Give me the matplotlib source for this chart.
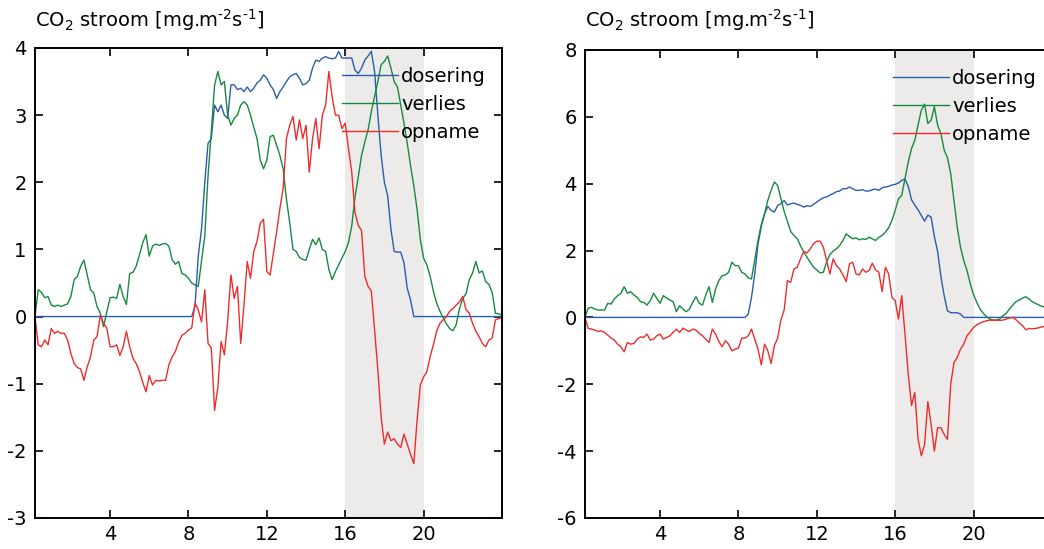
import numpy as np
import matplotlib
matplotlib.use("Agg")
import matplotlib.pyplot as plt

plt.rcParams["font.family"] = "DejaVu Sans"
plt.rcParams["axes.unicode_minus"] = False

# tijd in uren, 10-minuten waarden
tijd = np.arange(1, 145) / 6

# linker grafiek
dosering_1 = [
    0, 0, 0, 0, 0, 0,
    0, 0, 0, 0, 0, 0,
    0, 0, 0, 0, 0, 0,
    0, 0, 0, 0, 0, 0,
    0, 0, 0, 0, 0, 0,
    0, 0, 0, 0, 0, 0,
    0, 0, 0, 0, 0, 0,
    0, 0, 0, 0, 0, 0,
    0.00, 0.15, 0.90, 1.30, 2.00, 2.58,
    2.65, 3.15, 3.05, 3.15, 3.00, 2.95,
    3.45, 3.45, 3.38, 3.40, 3.35, 3.42,
    3.35, 3.40, 3.48, 3.52, 3.60, 3.55,
    3.45, 3.38, 3.25, 3.35, 3.42, 3.50,
    3.57, 3.60, 3.62, 3.55, 3.45, 3.47,
    3.52, 3.70, 3.82, 3.80, 3.85, 3.87,
    3.85, 3.84, 3.85, 3.95, 3.85, 3.85,
    3.85, 3.85, 3.67, 3.62, 3.70, 3.82,
    3.88, 3.95, 3.65, 3.00, 2.40, 2.00,
    1.80, 1.30, 0.97, 0.96, 0.96, 0.80,
    0.42, 0.25, 0.00, 0, 0, 0,
    0, 0, 0, 0, 0, 0,
    0, 0, 0, 0, 0, 0,
    0, 0, 0, 0, 0, 0,
    0, 0, 0, 0, 0, 0,
]
verlies_1 = [
    0.00, 0.40, 0.36, 0.28, 0.30, 0.17,
    0.15, 0.17, 0.15, 0.17, 0.19, 0.30,
    0.55, 0.60, 0.75, 0.84, 0.62, 0.40,
    0.35, 0.15, 0.05, -0.15, 0.07, 0.28,
    0.29, 0.27, 0.48, 0.30, 0.18, 0.64,
    0.66, 0.75, 0.92, 1.10, 1.22, 0.90,
    1.05, 1.08, 1.06, 1.08, 1.09, 1.05,
    0.85, 0.78, 0.82, 0.64, 0.62, 0.57,
    0.50, 0.47, 0.45, 0.83, 1.20, 2.10,
    2.75, 3.45, 3.65, 3.45, 3.50, 3.00,
    2.85, 2.95, 3.00, 3.15, 3.20, 3.15,
    3.00, 2.82, 2.65, 2.33, 2.20, 2.33,
    2.68, 2.70, 2.55, 2.40, 2.20, 1.75,
    1.40, 1.00, 0.97, 0.88, 0.85, 0.84,
    1.00, 1.15, 1.07, 1.17, 1.00, 0.97,
    0.70, 0.55, 0.67, 0.77, 0.87, 0.97,
    1.10, 1.35, 1.78, 2.08, 2.40, 2.60,
    2.78, 3.05, 3.28, 3.50, 3.75, 3.80,
    3.88, 3.70, 3.50, 3.42, 3.15, 2.88,
    2.58, 2.25, 1.95, 1.60, 1.15, 0.87,
    0.77, 0.60, 0.38, 0.20, 0.08, -0.02,
    -0.11, -0.18, -0.21, -0.12, 0.12, 0.27,
    0.34, 0.55, 0.65, 0.82, 0.65, 0.68,
    0.52, 0.48, 0.36, 0.05, 0.04, 0.02,
]
opname_1 = [
    0.00, -0.42, -0.45, -0.35, -0.42, -0.18,
    -0.25, -0.22, -0.25, -0.25, -0.35, -0.55,
    -0.70, -0.76, -0.78, -0.95, -0.75, -0.60,
    -0.35, -0.30, 0.02, -0.10, -0.17, -0.45,
    -0.45, -0.42, -0.58, -0.45, -0.22, -0.45,
    -0.62, -0.70, -0.82, -0.98, -1.12, -0.88,
    -1.02, -0.95, -0.96, -0.95, -0.95, -0.72,
    -0.60, -0.52, -0.38, -0.28, -0.25, -0.20,
    -0.17, 0.20, 0.10, -0.08, 0.40, -0.40,
    -0.47, -1.40, -1.05, -0.37, -0.57, -0.07,
    0.62, 0.27, 0.45, -0.40, 0.17, 0.82,
    0.57, 0.97, 1.12, 1.39, 1.45, 0.67,
    0.62, 0.94, 1.26, 1.61, 1.91, 2.65,
    2.85, 2.98, 2.63, 2.93, 2.65, 2.85,
    2.15, 2.65, 2.95, 2.50, 3.00, 3.15,
    3.65, 3.27, 3.00, 3.00, 2.80, 2.88,
    2.50, 2.15, 1.55, 1.36, 1.28, 0.60,
    0.45, 0.38, -0.20, -0.80, -1.50, -1.90,
    -1.72, -1.85, -1.82, -1.90, -1.95, -1.75,
    -1.90, -2.05, -2.19, -1.55, -1.02, -0.90,
    -0.82, -0.60, -0.42, -0.22, -0.10, -0.05,
    0.00, 0.08, 0.12, 0.17, 0.22, 0.30,
    0.10, 0.05, -0.10, -0.22, -0.30, -0.40,
    -0.45, -0.35, -0.32, -0.05, -0.03, -0.02,
]

# rechter grafiek
dosering_2 = [
    0, 0, 0, 0, 0, 0,
    0, 0, 0, 0, 0, 0,
    0, 0, 0, 0, 0, 0,
    0, 0, 0, 0, 0, 0,
    0, 0, 0, 0, 0, 0,
    0, 0, 0, 0, 0, 0,
    0, 0, 0, 0, 0, 0,
    0, 0, 0, 0, 0, 0,
    0.00, 0.00, 0.10, 0.60, 1.30, 2.20,
    2.72, 3.10, 3.32, 3.20, 3.15, 3.35,
    3.40, 3.50, 3.36, 3.40, 3.42, 3.38,
    3.35, 3.30, 3.34, 3.32, 3.38, 3.45,
    3.52, 3.58, 3.60, 3.66, 3.70, 3.76,
    3.78, 3.85, 3.85, 3.90, 3.85, 3.80,
    3.80, 3.82, 3.78, 3.78, 3.82, 3.84,
    3.80, 3.88, 3.90, 3.92, 3.96, 3.98,
    4.02, 4.10, 4.14, 3.92, 3.52, 3.36,
    3.22, 3.05, 2.88, 3.06, 3.00, 2.42,
    1.97, 1.22, 0.65, 0.20, 0.14, 0.14,
    0.14, 0.10, 0.00, 0, 0, 0,
    0, 0, 0, 0, 0, 0,
    0, 0, 0, 0, 0, 0,
    0, 0, 0, 0, 0, 0,
    0, 0, 0, 0, 0, 0,
]
verlies_2 = [
    0.00, 0.28, 0.30, 0.25, 0.22, 0.22,
    0.22, 0.42, 0.40, 0.55, 0.65, 0.72,
    0.92, 0.72, 0.77, 0.67, 0.60, 0.47,
    0.45, 0.37, 0.50, 0.72, 0.57, 0.42,
    0.65, 0.58, 0.52, 0.47, 0.17, 0.35,
    0.25, 0.17, 0.25, 0.45, 0.62, 0.42,
    0.37, 0.67, 0.92, 0.45, 0.85, 1.10,
    1.25, 1.27, 1.35, 1.65, 1.55, 1.55,
    1.35, 1.30, 1.18, 1.15, 1.72, 2.30,
    2.78, 3.10, 3.50, 3.80, 4.05, 3.95,
    3.56, 3.17, 2.87, 2.57, 2.45, 2.36,
    2.15, 1.95, 1.80, 1.65, 1.50, 1.42,
    1.33, 1.35, 1.65, 1.88, 1.98, 2.05,
    2.15, 2.30, 2.50, 2.42, 2.35, 2.38,
    2.32, 2.35, 2.33, 2.40, 2.35, 2.30,
    2.40, 2.45, 2.55, 2.68, 2.90, 3.20,
    3.55, 3.65, 4.15, 4.65, 5.05, 5.30,
    5.75, 6.20, 6.38, 5.80, 5.90, 6.30,
    5.75, 5.50, 5.00, 4.78, 4.30, 3.50,
    2.70, 2.10, 1.70, 1.40, 1.00, 0.68,
    0.45, 0.25, 0.12, 0.02, -0.05, -0.08,
    -0.08, -0.05, 0.05, 0.12, 0.25, 0.37,
    0.47, 0.52, 0.58, 0.62, 0.55, 0.47,
    0.42, 0.37, 0.33, 0.30, 0.28, 0.25,
]
opname_2 = [
    0.00, -0.33, -0.35, -0.38, -0.42, -0.40,
    -0.45, -0.53, -0.62, -0.68, -0.80, -0.88,
    -1.03, -0.75, -0.80, -0.78, -0.65, -0.58,
    -0.60, -0.50, -0.68, -0.65, -0.55, -0.50,
    -0.65, -0.60, -0.55, -0.45, -0.35, -0.45,
    -0.32, -0.38, -0.42, -0.35, -0.38, -0.48,
    -0.55, -0.65, -0.75, -0.35, -0.50, -0.72,
    -0.88, -0.70, -0.80, -1.00, -0.95, -0.92,
    -0.62, -0.62, -0.55, -0.35, -0.65, -0.95,
    -1.42, -0.80, -1.00, -1.38, -0.85, -0.62,
    -0.08, 0.22, 1.10, 1.05, 1.45, 1.50,
    1.75, 1.97, 1.93, 2.05, 2.20, 2.28,
    2.28, 2.10, 1.70, 1.30, 1.75, 1.55,
    1.45, 1.27, 1.07, 1.60, 1.65, 1.30,
    1.27, 1.45, 1.35, 1.40, 1.62, 1.42,
    1.35, 0.77, 1.50, 1.30, 0.60, 0.50,
    -0.05, 0.65, -0.50, -1.70, -2.64, -2.24,
    -3.64, -4.14, -3.80, -2.52, -3.20, -4.00,
    -3.30, -3.30, -3.50, -3.65, -2.00, -1.35,
    -1.20, -0.95, -0.80, -0.55, -0.43, -0.30,
    -0.22, -0.17, -0.13, -0.10, -0.08, -0.09,
    -0.08, -0.09, -0.08, -0.05, -0.02, 0.00,
    -0.07, -0.17, -0.25, -0.37, -0.33, -0.34,
    -0.33, -0.31, -0.28, -0.27, -0.26, -0.25,
]

labels = ["dosering", "verlies", "opname"]
kleuren = ["#2a5db0", "#168a3e", "#ee2c2c"]
x_ticks = [4, 8, 12, 16, 20]

fig = plt.figure(figsize=(10.44, 5.49), dpi=100)
ax1 = fig.add_axes([0.0335, 0.0565, 0.4473, 0.8561])
ax2 = fig.add_axes([0.5603, 0.0565, 0.4473, 0.8525])

panelen = [
    (ax1, [dosering_1, verlies_1, opname_1], (-3, 4), np.arange(-3, 5, 1), (0.657, 0.959)),
    (ax2, [dosering_2, verlies_2, opname_2], (-6, 8), np.arange(-6, 9, 2), (0.6595, 0.959)),
]

for ax, reeksen, ylim, yticks, leg_pos in panelen:
    ax.axvspan(16, 20, color="#ecebe9", lw=0, zorder=0)
    for y, lab, kl in zip(reeksen, labels, kleuren):
        ax.plot(tijd, y, color=kl, lw=1.0, label=lab)
    ax.set_xlim(tijd[0], 24)
    ax.set_ylim(*ylim)
    ax.set_xticks(x_ticks)
    ax.set_yticks(yticks)
    ax.tick_params(direction="in", top=True, right=True, length=5.5, width=1.2,
                   labelsize=14)
    ax.tick_params(axis="y", pad=6)
    ax.tick_params(axis="x", pad=5)
    for sp in ax.spines.values():
        sp.set_linewidth(1.4)
    ax.legend(loc="upper left", bbox_to_anchor=leg_pos, frameon=False,
              fontsize=14, handlelength=2.9, handletextpad=0.15,
              labelspacing=0.45, borderpad=0, borderaxespad=0)

titel = r"CO$_2$ stroom [mg.m$^{\text{-2}}$s$^{\text{-1}}$]"
fig.text(35 / 1044, 1 - 27 / 549, titel, fontsize=14, ha="left", va="baseline")
fig.text(585 / 1044, 1 - 27 / 549, titel, fontsize=14, ha="left", va="baseline")

fig.savefig("out.png", dpi=100)
